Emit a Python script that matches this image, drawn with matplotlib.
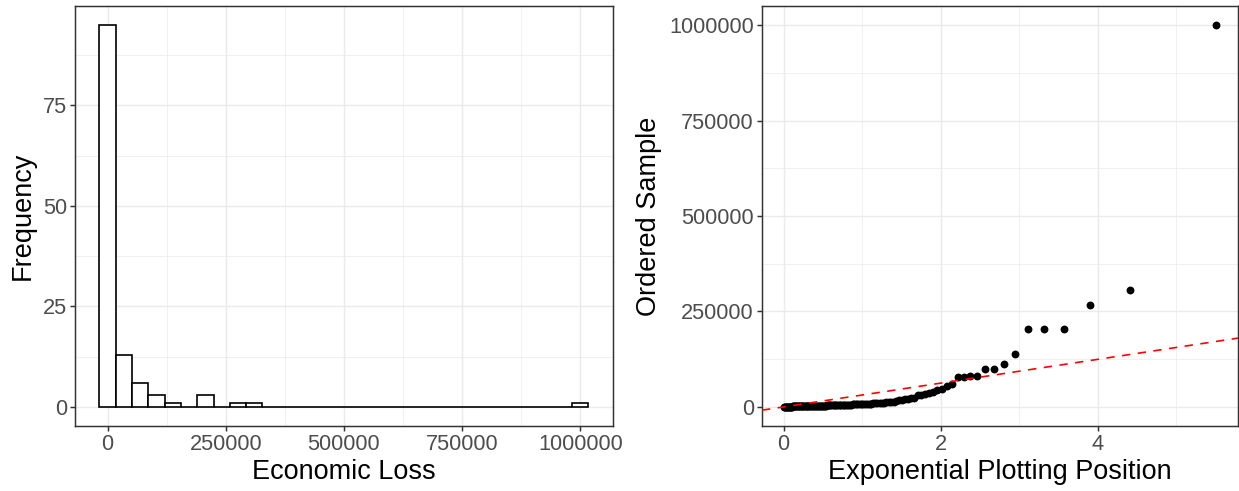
import numpy as np
import matplotlib.pyplot as plt

plt.rcParams['font.family'] = ['Liberation Sans', 'DejaVu Sans']

loss_small = [100, 200, 300, 400, 450, 500, 600, 700, 750, 800,
              850, 900, 1000, 1050, 1100, 1150, 1200, 1250, 1300, 1350,
              1400, 1450, 1500, 1500, 1550, 1600, 1650, 1700, 1750, 1800,
              1850, 1900, 2000, 2050, 2100, 2200, 2300, 2400, 2450, 2500,
              2600, 2700, 2750, 2800, 2900, 3000, 3100, 3200, 3300, 3400,
              3500, 3600, 3700, 3800, 3900, 4000, 4100, 4200, 4350, 4500,
              4600, 4750, 4900, 5000, 5100, 5250, 5400, 5500, 5650, 5800,
              6000, 6150, 6300, 6500, 6700, 6900, 7100, 7300, 7500, 7700,
              8000, 8300, 8600, 8900, 9200, 9500, 9900, 10300, 10700, 11000,
              11600, 12200, 12900, 13600, 14500]
loss_mid = [18000, 19000, 20000, 21000, 22500, 24000, 31000, 32000, 34000,
            36000, 39000, 43000, 48000]
loss_large = [55000, 60000, 78000, 78500, 81000, 81000, 99500, 100000, 112000,
              139000, 203000, 204000, 205000, 268000, 305000, 1000000]

hist_xticks = [0, 250000, 500000, 750000, 1000000]
hist_yticks = [0, 25, 50, 75]
qq_xticks = [0, 2, 4]
qq_yticks = [0, 250000, 500000, 750000, 1000000]

loss = np.array(loss_small + loss_mid + loss_large, dtype=float)
n = len(loss)

# 30 bins like ggplot's default, first bin centred on 0
bin_width = loss.max() / 29
edges = (np.arange(31) - 0.5) * bin_width

# exponential plotting positions
pos = -np.log(1 - (np.arange(1, n + 1) - 0.5) / n)

grid_col = '#EBEBEB'
frame_col = '#333333'
tick_col = '#4D4D4D'
lw = 1.07


def style_axes(ax, xt, yt, xminor, yminor):
    ax.set_facecolor('white')
    ax.set_axisbelow(True)
    ax.set_xticks(xt)
    ax.set_xticklabels([str(t) for t in xt])
    ax.set_yticks(yt)
    ax.set_yticklabels([str(t) for t in yt])
    ax.set_xticks(xminor, minor=True)
    ax.set_yticks(yminor, minor=True)
    ax.grid(True, which='major', color=grid_col, linewidth=lw)
    ax.grid(True, which='minor', color=grid_col, linewidth=lw / 2)
    ax.tick_params(which='major', length=3.8, width=lw, color=frame_col,
                   labelcolor=tick_col, labelsize=15.7, pad=2)
    ax.tick_params(which='minor', length=0)
    for s in ax.spines.values():
        s.set_color(frame_col)
        s.set_linewidth(lw)


fig = plt.figure(figsize=(12.39, 4.91), dpi=100)

# histogram
ax1 = fig.add_axes([0.0605, 0.1324, 0.4342, 0.8554])
ax1.hist(loss, bins=edges, color='white', edgecolor='black', linewidth=1.2)
ax1.use_sticky_edges = False
ax1.margins(0.05)
style_axes(ax1, hist_xticks, hist_yticks,
           [125000, 375000, 625000, 875000], [12.5, 37.5, 62.5, 87.5])
ax1.set_xlabel('Economic Loss', fontsize=19.5, labelpad=3)
ax1.set_ylabel('Frequency', fontsize=19.5, labelpad=5)

# exponential qq plot
ax2 = fig.add_axes([0.615, 0.1324, 0.3842, 0.8554])
ax2.scatter(pos, loss, s=32, color='black', linewidths=0, zorder=3)
ax2.margins(0.05)
ax2.axline((0, 0), slope=loss.mean(), color='red', linewidth=1.2,
           linestyle=(0, (5, 4.5)), zorder=4)
style_axes(ax2, qq_xticks, qq_yticks, [1, 3, 5],
           [125000, 375000, 625000, 875000])
ax2.set_xlabel('Exponential Plotting Position', fontsize=19.5, labelpad=3)
ax2.set_ylabel('Ordered Sample', fontsize=19.5, labelpad=5)

fig.savefig('out.png', dpi=100)
